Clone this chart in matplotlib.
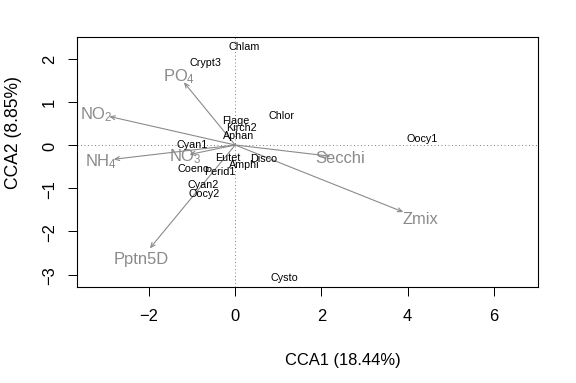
import matplotlib
matplotlib.use("Agg")
import matplotlib.pyplot as plt

plt.rcParams['font.family'] = ['Liberation Sans', 'DejaVu Sans']
plt.rcParams['mathtext.default'] = 'regular'

# species scores (CCA1, CCA2)
species = ["Chlam", "Crypt3", "Chlor", "Flage", "Kirch2", "Aphan", "Cyan1", "Oocy1",
           "Eutet", "Disco", "Amphi", "Coeno", "Perid1", "Cyan2", "Oocy2", "Cysto"]
sp_x = [0.20, -0.70, 1.07, 0.01, 0.14, 0.09, -1.00, 4.34,
        -0.17, 0.65, 0.20, -0.96, -0.36, -0.74, -0.72, 1.14]
sp_y = [2.28, 1.93, 0.70, 0.57, 0.42, 0.23, 0.03, 0.17,
        -0.28, -0.29, -0.43, -0.54, -0.60, -0.90, -1.12, -3.06]

# environmental biplot arrows
env = ["PO$_4$", "NO$_2$", "NH$_4$", "NO$_3$", "Secchi", "Zmix", "Pptn5D"]
env_x = [-1.19, -2.92, -2.82, -1.06, 2.21, 3.90, -1.98]
env_y = [1.45, 0.66, -0.33, -0.22, -0.26, -1.55, -2.39]

x_ticks = [-2, 0, 2, 4, 6]
y_ticks = [-3, -2, -1, 0, 1, 2]

grey = "#8a8a8a"

fig = plt.figure(figsize=(8, 5.333), dpi=72)
ax = fig.add_axes([0.1337, 0.2505, 0.7999, 0.6497])

ax.axhline(0, color=grey, lw=1, ls=(0, (1, 2.5)))
ax.axvline(0, color=grey, lw=1, ls=(0, (1, 2.5)))

for lab, x, y in zip(env, env_x, env_y):
    ax.annotate("", xy=(x, y), xytext=(0, 0),
                arrowprops=dict(arrowstyle="->,head_length=0.45,head_width=0.2",
                                color=grey, lw=1.1, shrinkA=0, shrinkB=0))
    ax.text(x * 1.1, y * 1.1, lab, color=grey, fontsize=16.5,
            ha="center", va="center")

for lab, x, y in zip(species, sp_x, sp_y):
    ax.text(x, y, lab, color="black", fontsize=10.8, ha="center", va="center")

ax.set_xlim(-3.67, 7.02)
ax.set_ylim(-3.28, 2.49)
ax.set_xticks(x_ticks)
ax.set_yticks(y_ticks)
ax.set_xticklabels(["\u22122", "0", "2", "4", "6"])
ax.set_yticklabels(["\u22123", "\u22122", "\u22121", "0", "1", "2"],
                   rotation=90, va="center")
ax.tick_params(length=9, width=1, labelsize=16.5)
ax.tick_params(axis="x", pad=12)
ax.tick_params(axis="y", pad=11)
for s in ax.spines.values():
    s.set_linewidth(1.1)

ax.set_xlabel("CCA1 (18.44%)", fontsize=16.5, va="center", ha="center")
ax.xaxis.set_label_coords(0.576, -0.29)
ax.set_ylabel("CCA2 (8.85%)", fontsize=17.5, va="center", ha="center")
ax.yaxis.set_label_coords(-0.137, 0.624)

fig.savefig("out.png", dpi=72)
